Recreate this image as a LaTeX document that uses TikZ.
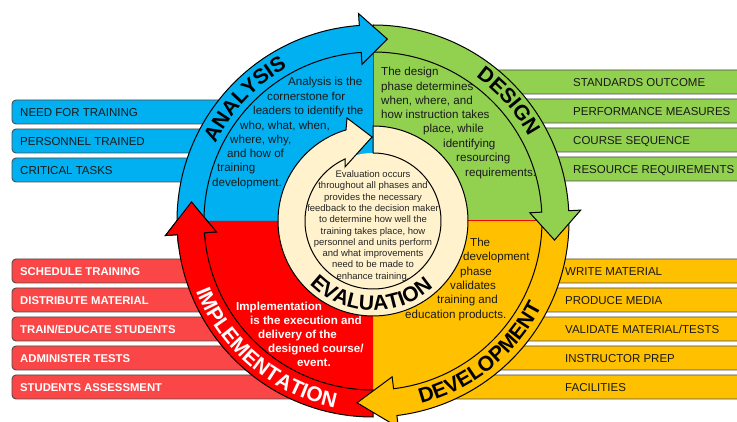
\documentclass[tikz,border=0pt]{standalone}
\usepackage{fontspec}
\setmainfont{Liberation Sans}
\usetikzlibrary{decorations.text}

\definecolor{anablue}{RGB}{0,176,240}
\definecolor{desgreen}{RGB}{146,208,80}
\definecolor{devgold}{RGB}{255,192,0}
\definecolor{impred}{RGB}{255,0,0}
\definecolor{boxred}{RGB}{250,70,70}
\definecolor{evalcream}{RGB}{255,242,204}

\tikzset{
  listbox/.style={draw=black!70, line width=0.9pt, rounded corners=4pt},
  boxtext/.style={anchor=west, inner sep=0pt, text height=8.3pt, text depth=0pt,
    text=black!90, font=\fontsize{11.5}{13}\selectfont},
  boldbox/.style={boxtext, text=white, font=\bfseries\fontsize{11.3}{13}\selectfont},
  phasetext/.style={anchor=base west, inner sep=0pt, text=black!90,
    font=\fontsize{11.6}{13}\selectfont},
  ringarrow/.style={draw=black, line width=1pt},
}

\begin{document}
\begin{tikzpicture}[x=1pt, y=1pt]
\useasboundingbox (0,0) rectangle (737,422);
\fill[white] (0,0) rectangle (737,422);

% task lists, tucked under the ring
\foreach \yy/\txt [count=\i] in {310/NEED FOR TRAINING, 281/PERSONNEL TRAINED, 252/CRITICAL TASKS} {
  \draw[listbox, fill=anablue] (12,\yy-12) rectangle (330,\yy+12);
  \node[boxtext] (ana\i) at (20,\yy) {\txt};
}
\foreach \yy/\txt [count=\i] in {151/SCHEDULE TRAINING, 122/DISTRIBUTE MATERIAL, 93/{TRAIN/EDUCATE STUDENTS}, 64/ADMINISTER TESTS, 35/STUDENTS ASSESSMENT} {
  \draw[listbox, fill=boxred] (12,\yy-12) rectangle (330,\yy+12);
  \node[boldbox] (imp\i) at (20,\yy) {\txt};
}
\foreach \yy/\txt [count=\i] in {340/STANDARDS OUTCOME, 311/PERFORMANCE MEASURES, 282/COURSE SEQUENCE, 253/RESOURCE REQUIREMENTS} {
  \draw[listbox, fill=desgreen] (420,\yy-12) rectangle (760,\yy+12);
  \node[boxtext] (des\i) at (573,\yy) {\txt};
}
\foreach \yy/\txt [count=\i] in {151/WRITE MATERIAL, 122/PRODUCE MEDIA, 93/{VALIDATE MATERIAL/TESTS}, 64/INSTRUCTOR PREP, 35/FACILITIES} {
  \draw[listbox, fill=devgold] (420,\yy-12) rectangle (760,\yy+12);
  \node[boxtext] (dev\i) at (565,\yy) {\txt};
}

\begin{scope}[shift={(373,201)}]
% four quadrants
\fill[anablue] (0,0) -- (180:180) arc[start angle=180, end angle=90, radius=180] -- cycle;
\fill[desgreen] (0,0) -- (90:180) arc[start angle=90, end angle=0, radius=180] -- cycle;
\fill[devgold] (0,0) -- (0:180) arc[start angle=0, end angle=-90, radius=180] -- cycle;
\fill[impred] (0,0) -- (-90:180) arc[start angle=-90, end angle=-180, radius=180] -- cycle;
\draw[impred, line width=1pt] (0,0) -- (90:169) (0,0) -- (0:169);
\end{scope}

% phase descriptions
\foreach \x/\yy/\txt [count=\i] in {288/336/{Analysis is the}, 267/321/{cornerstone for}, 253/307/{leaders to identify the}, 240/292/{who, what, when,}, 230/278/{where, why,}, 227/264/{and how of}, 217/250/{training}, 212/235/{development.}}
  \node[phasetext] (anatxt\i) at (\x,\yy) {\txt};
\foreach \x/\yy/\txt [count=\i] in {381/346/{The design}, 381/331/{phase determines}, 381/317/{when, where, and}, 381/303/{how instruction takes}, 423/289/{place, while}, 443/274/{identifying}, 456/260/{resourcing}, 465/245/{requirements.}}
  \node[phasetext] (destxt\i) at (\x,\yy) {\txt};
\foreach \x/\yy/\txt [count=\i] in {470/175/{The}, 463/161/{development}, 460/146/{phase}, 450/132/{validates}, 437/118/{training and}, 405/103/{education products.}}
  \node[phasetext] (devtxt\i) at (\x,\yy) {\txt};
\foreach \x/\yy/\txt [count=\i] in {236/111/{Implementation}, 250/97/{is the execution and}, 258/83/{delivery of the}, 268/69/{designed course/}, 297/55/{event.}}
  \node[phasetext, text=white, font=\bfseries\fontsize{11.6}{13}\selectfont] (imptxt\i) at (\x,\yy) {\txt};

\begin{scope}[shift={(373,201)}]
% ring arrows, each head laid over the start of the next
\foreach \col/\angA/\angB/\angT in {impred/270/184/174, devgold/0/-83/-95, desgreen/90/3/-6, anablue/180/94/85.5}
  \draw[ringarrow, fill=\col] (\angA:196) arc[start angle=\angA, end angle=\angB, radius=196]
    -- (\angB:208) -- (\angT:182.5) -- (\angB:157) -- (\angB:169)
    arc[start angle=\angB, end angle=\angA, radius=169] -- cycle;
% red head again, on top of the blue tail
\begin{scope}
  \clip (-225,-25) rectangle (-140,40);
  \draw[ringarrow, fill=impred] (270:196) arc[start angle=270, end angle=184, radius=196]
    -- (184:208) -- (174:182.5) -- (184:157) -- (184:169)
    arc[start angle=184, end angle=270, radius=169] -- cycle;
\end{scope}

% evaluation loop in the middle
\fill[evalcream] (0,0) circle[radius=68];
\draw[ringarrow, fill=evalcream] (90:95) arc[start angle=90, end angle=-253.5, radius=95]
  -- (-26,103) -- (-1,84) -- (-28,54) -- (114.3:68)
  arc[start angle=-245.7, end angle=90, radius=68] -- cycle;
\node[align=center, inner sep=0pt, text=black!85, font=\fontsize{9.5}{11.3}\selectfont] (evaltxt) at (0,-5)
  {Evaluation occurs\\throughout all phases and\\provides the necessary\\feedback to the decision maker\\to determine how well the\\training takes place, how\\personnel and units perform\\and what improvements\\need to be made to\\enhance training.};

% phase names along the ring
\path[decorate, decoration={text along path, text align=center,
  text={|\bfseries\fontsize{21}{21}\selectfont|ANALYSIS}}]
  (162:175.5) arc[start angle=162, end angle=111, radius=175.5];
\path[decorate, decoration={text along path, text align=center,
  text={|\bfseries\fontsize{21}{21}\selectfont|DESIGN}}]
  (67:177) arc[start angle=67, end angle=16, radius=177];
\path[decorate, decoration={text along path, text align=center,
  text={|\bfseries\fontsize{21}{21}\selectfont|DEVELOPMENT}}]
  (-90:189) arc[start angle=-90, end angle=-12, radius=189];
\path[decorate, decoration={text along path, text align=center,
  text={|\bfseries\fontsize{21}{21}\selectfont\color{white}|IMPLEMENTATION}}]
  (190:190.5) arc[start angle=190, end angle=270, radius=190.5];
\path[decorate, decoration={text along path, text align=center,
  text={|\bfseries\fontsize{21}{21}\selectfont|EVALUATION}}]
  (209:89.5) arc[start angle=209, end angle=328, radius=89.5];
\end{scope}
\end{tikzpicture}
\end{document}
